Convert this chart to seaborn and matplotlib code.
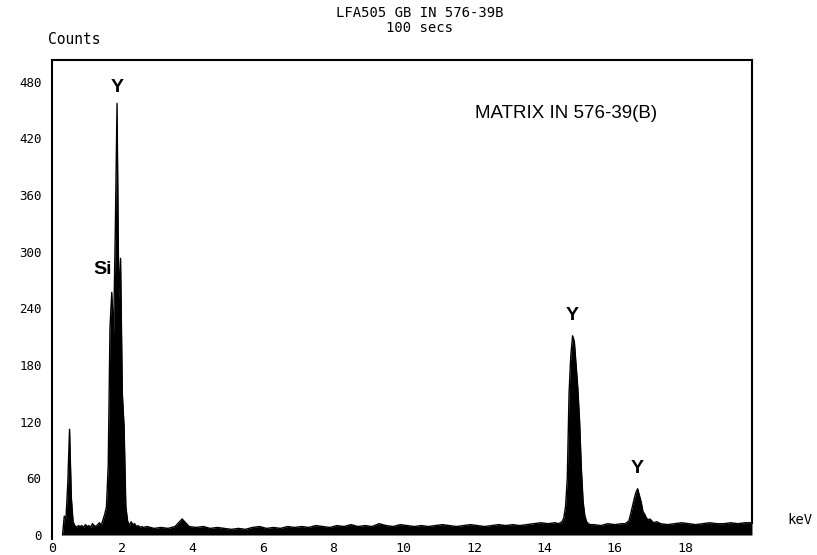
import numpy as np
import matplotlib
matplotlib.use("Agg")
import matplotlib.pyplot as plt
import seaborn as sns

# --- spectrum channels (keV) and counts, region by region ---
low_kev = [0.30, 0.35, 0.40, 0.45, 0.50, 0.55, 0.60, 0.65, 0.70, 0.75,
           0.80, 0.85, 0.90, 0.95, 1.00, 1.05, 1.10, 1.15, 1.20, 1.25,
           1.30, 1.35, 1.40, 1.45, 1.50, 1.55, 1.60, 1.65, 1.70, 1.75,
           1.80, 1.85, 1.90, 1.95, 2.00, 2.05, 2.10, 2.15, 2.20, 2.25,
           2.30, 2.35, 2.40, 2.45, 2.50, 2.55, 2.60]
low_counts = [0, 20, 18, 55, 112, 40, 14, 10, 8, 10,
              9, 10, 8, 11, 9, 10, 8, 12, 10, 9,
              11, 13, 10, 16, 22, 30, 75, 220, 257, 210,
              320, 457, 250, 293, 150, 115, 30, 15, 10, 14,
              11, 12, 9, 10, 8, 9, 8]

mid_kev = [2.7, 2.9, 3.1, 3.3, 3.5, 3.7, 3.9, 4.1, 4.3, 4.5,
           4.7, 4.9, 5.1, 5.3, 5.5, 5.7, 5.9, 6.1, 6.3, 6.5,
           6.7, 6.9, 7.1, 7.3, 7.5, 7.7, 7.9, 8.1, 8.3, 8.5,
           8.7, 8.9, 9.1, 9.3, 9.5, 9.7, 9.9, 10.1, 10.3, 10.5,
           10.7, 10.9, 11.1, 11.3, 11.5, 11.7, 11.9, 12.1, 12.3, 12.5,
           12.7, 12.9, 13.1, 13.3, 13.5, 13.7, 13.9, 14.1, 14.3]
mid_counts = [9, 7, 8, 7, 9, 17, 9, 8, 9, 7,
              8, 7, 6, 7, 6, 8, 9, 7, 8, 7,
              9, 8, 9, 8, 10, 9, 8, 10, 9, 11,
              9, 10, 9, 12, 10, 9, 11, 10, 9, 10,
              9, 10, 11, 10, 9, 10, 11, 10, 9, 10,
              11, 10, 11, 10, 11, 12, 13, 12, 13]

ka_kev = [14.40, 14.45, 14.50, 14.55, 14.60, 14.65, 14.70, 14.75, 14.80, 14.85,
          14.90, 14.95, 15.00, 15.05, 15.10, 15.15, 15.20, 15.25, 15.30]
ka_counts = [12, 13, 14, 18, 30, 60, 150, 190, 211, 205,
             180, 155, 120, 70, 35, 20, 14, 12, 11]

gap_kev = [15.4, 15.6, 15.8, 16.0, 16.2, 16.3]
gap_counts = [11, 10, 12, 11, 12, 12]

kb_kev = [16.40, 16.45, 16.50, 16.55, 16.60, 16.65, 16.70, 16.75, 16.80, 16.85,
          16.90, 16.95, 17.00, 17.10, 17.20]
kb_counts = [15, 22, 30, 38, 45, 49, 42, 35, 25, 22,
             18, 16, 17, 13, 14]

high_kev = [17.3, 17.5, 17.7, 17.9, 18.1, 18.3, 18.5, 18.7, 18.9, 19.1,
            19.3, 19.5, 19.7, 19.9]
high_counts = [12, 11, 12, 13, 12, 11, 12, 13, 12, 12,
               13, 12, 13, 13]

y_ticks = [0, 60, 120, 180, 240, 300, 360, 420, 480]
x_ticks = [0, 2, 4, 6, 8, 10, 12, 14, 16, 18]

peak_labels = ["Y", "Si", "Y", "Y"]
peak_label_kev = [1.85, 1.45, 14.80, 16.65]
peak_label_counts = [474, 281, 232, 70]

energy = np.array(low_kev + mid_kev + ka_kev + gap_kev + kb_kev + high_kev)
counts = np.array(low_counts + mid_counts + ka_counts + gap_counts + kb_counts + high_counts)

sns.set_style("white")
plt.rcParams["font.family"] = ["DejaVu Sans Mono", "DejaVu Sans"]
plt.rcParams["text.color"] = "black"
plt.rcParams["xtick.color"] = "black"
plt.rcParams["ytick.color"] = "black"

fig = plt.figure(figsize=(8.17, 5.55), dpi=100)
ax = fig.add_axes([0.0636, 0.0292, 0.8568, 0.8627])

# filled spectrum with its outline
ax.fill_between(energy, counts, 0, color="black", lw=0)
sns.lineplot(x=energy, y=counts, ax=ax, color="black", lw=1.0,
             estimator=None, sort=False)

ax.set_xlim(0, 19.9)
ax.set_ylim(-4, 503)

# open-bottom frame: left, top and right edges only
for s in ["left", "top", "right"]:
    ax.spines[s].set_visible(True)
    ax.spines[s].set_color("black")
    ax.spines[s].set_linewidth(1.5)
ax.spines["bottom"].set_visible(False)
ax.spines["left"].set_bounds(-4, 503)
ax.spines["right"].set_bounds(13, 503)

ax.set_yticks(y_ticks)
ax.set_yticklabels([str(v) for v in y_ticks], fontsize=9)
ax.set_xticks(x_ticks)
ax.set_xticklabels([str(v) for v in x_ticks], fontsize=9.5)
ax.tick_params(axis="y", direction="inout", length=9, width=1.3, pad=3)
ax.tick_params(axis="x", length=0, pad=2)
ax.set_xlabel("")
ax.set_ylabel("")

# element labels above the peaks
for lab, xk, yc in zip(peak_labels, peak_label_kev, peak_label_counts):
    ax.text(xk, yc, lab, ha="center", va="center", fontsize=14,
            fontweight="bold", family="Liberation Sans", color="black")

fig.text(566 / 817, 1 - 113 / 555, "MATRIX IN 576-39(B)", ha="center", va="center",
         fontsize=13.5, family="Liberation Sans")

fig.text(420 / 817, 1 - 13 / 555, "LFA505 GB IN 576-39B", ha="center", va="center", fontsize=10)
fig.text(420 / 817, 1 - 28 / 555, "100 secs", ha="center", va="center", fontsize=10)
fig.text(48 / 817, 1 - 40 / 555, "Counts", ha="left", va="center", fontsize=10.5)
fig.text(800 / 817, 1 - 520 / 555, "keV", ha="center", va="center", fontsize=10)

fig.savefig("out.png", dpi=100)
